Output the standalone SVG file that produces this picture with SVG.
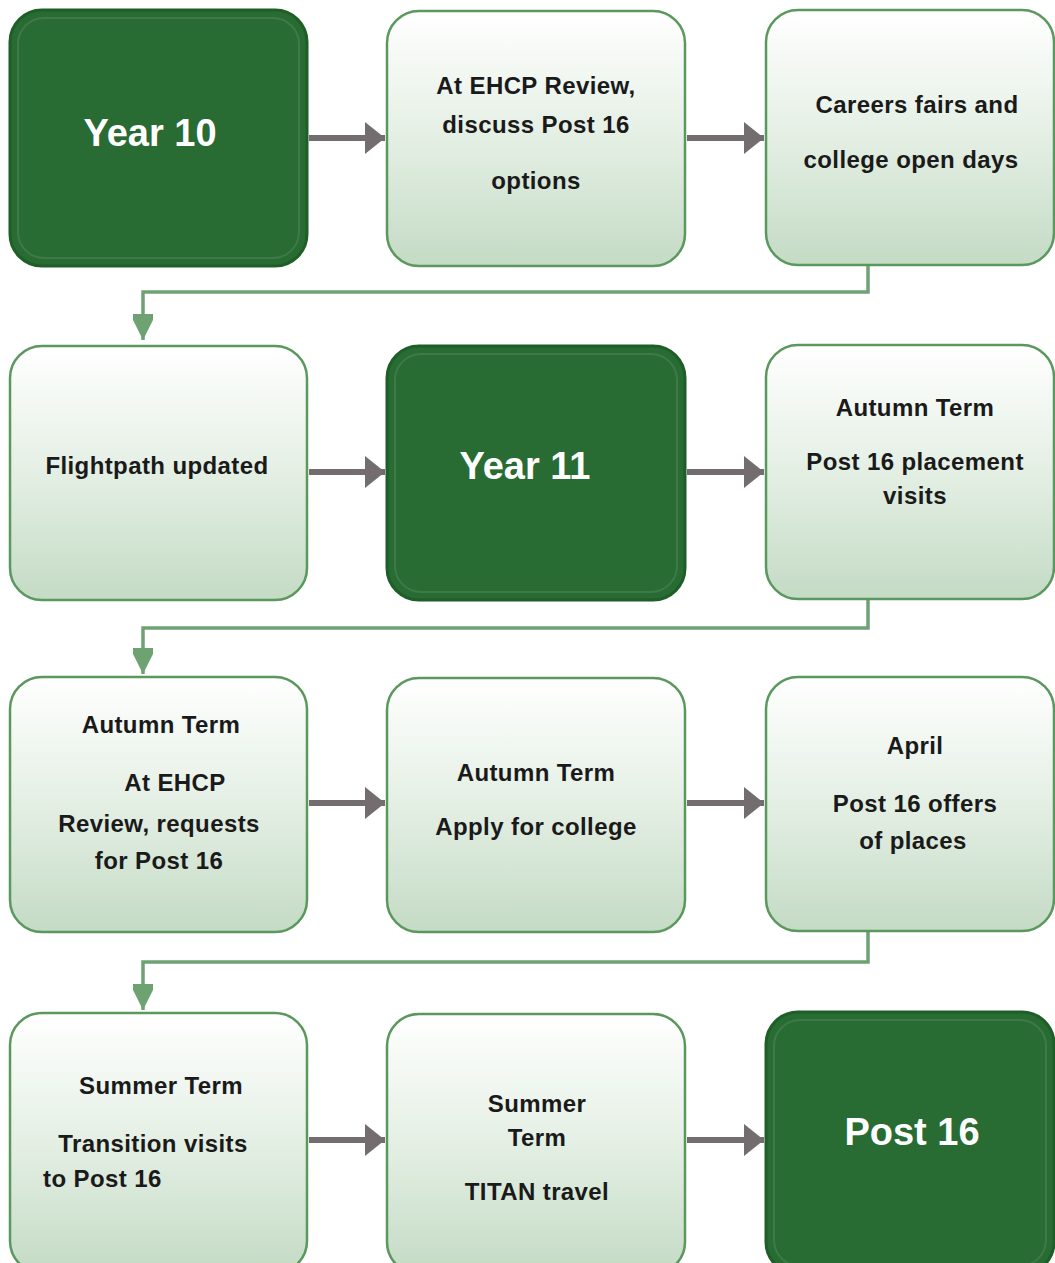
<svg xmlns="http://www.w3.org/2000/svg" width="1055" height="1263" viewBox="0 0 1055 1263">
<defs>
<linearGradient id="lg" x1="0" y1="0" x2="0" y2="1">
<stop offset="0" stop-color="#ffffff"/>
<stop offset="0.5" stop-color="#e4efe4"/>
<stop offset="1" stop-color="#c4dbc5"/>
</linearGradient>
<marker id="ga" viewBox="0 0 20 32" refX="20" refY="16" markerWidth="20" markerHeight="32" markerUnits="userSpaceOnUse" orient="auto">
<path d="M0,0 L20,16 L0,32 Z" fill="#746d6f"/>
</marker>
<marker id="gr" viewBox="0 0 26 20" refX="26" refY="10" markerWidth="26" markerHeight="20" markerUnits="userSpaceOnUse" orient="auto">
<path d="M0,-3 L26,10 L0,23 Z" fill="#6ea273"/>
</marker>
</defs>
<style>
.lt{fill:url(#lg);stroke:#5a985e;stroke-width:2.5}
.dk{fill:#286b33;stroke:#1e5f28;stroke-width:3}
.hl{fill:none;stroke:#ffffff;stroke-opacity:0.1;stroke-width:2}
.t{font-family:"Liberation Sans",Arial,sans-serif;font-weight:bold;font-size:24px;letter-spacing:0.4px;fill:#1a1a1a;text-anchor:middle}
.w{font-family:"Liberation Sans",Arial,sans-serif;font-weight:bold;font-size:38px;fill:#ffffff;text-anchor:middle}
.ha{stroke:#746d6f;stroke-width:6;fill:none;marker-end:url(#ga)}
.el{stroke:#6ea273;stroke-width:3.5;fill:none;marker-end:url(#gr)}
</style>

<g id="connectors">
<line class="ha" x1="309" y1="138" x2="385" y2="138"/>
<line class="ha" x1="687" y1="138" x2="764" y2="138"/>
<path class="el" d="M868,266 V292 H143 V340"/>
<line class="ha" x1="309" y1="472" x2="385" y2="472"/>
<line class="ha" x1="687" y1="472" x2="764" y2="472"/>
<path class="el" d="M868,600 V628 H143 V674"/>
<line class="ha" x1="309" y1="803" x2="385" y2="803"/>
<line class="ha" x1="687" y1="803" x2="764" y2="803"/>
<path class="el" d="M868,932 V962 H143 V1010"/>
<line class="ha" x1="309" y1="1140" x2="385" y2="1140"/>
<line class="ha" x1="687" y1="1140" x2="764" y2="1140"/>
</g>

<g id="n1">
<rect class="dk" x="10" y="10" width="297" height="256" rx="32"/>
<rect class="hl" x="18" y="18" width="281" height="240" rx="26"/>
<text class="w" x="150" y="146">Year 10</text>
</g>
<g id="n2">
<rect class="lt" x="387" y="11" width="298" height="255" rx="32"/>
<text class="t" x="536" y="94">At EHCP Review,</text>
<text class="t" x="536" y="133">discuss Post 16</text>
<text class="t" x="536" y="189">options</text>
</g>
<g id="n3">
<rect class="lt" x="766" y="10" width="288" height="255" rx="32"/>
<text class="t" x="917" y="113">Careers fairs and</text>
<text class="t" x="911" y="168">college open days</text>
</g>

<g id="n4">
<rect class="lt" x="10" y="346" width="297" height="254" rx="32"/>
<text class="t" x="157" y="474">Flightpath updated</text>
</g>
<g id="n5">
<rect class="dk" x="387" y="346" width="298" height="254" rx="32"/>
<rect class="hl" x="395" y="354" width="282" height="238" rx="26"/>
<text class="w" x="525" y="479">Year 11</text>
</g>
<g id="n6">
<rect class="lt" x="766" y="345" width="288" height="254" rx="32"/>
<text class="t" x="915" y="416">Autumn Term</text>
<text class="t" x="915" y="470">Post 16 placement</text>
<text class="t" x="915" y="504">visits</text>
</g>

<g id="n7">
<rect class="lt" x="10" y="677" width="297" height="255" rx="32"/>
<text class="t" x="161" y="733">Autumn Term</text>
<text class="t" x="175" y="791">At EHCP</text>
<text class="t" x="159" y="832">Review, requests</text>
<text class="t" x="159" y="869">for Post 16</text>
</g>
<g id="n8">
<rect class="lt" x="387" y="678" width="298" height="254" rx="32"/>
<text class="t" x="536" y="781">Autumn Term</text>
<text class="t" x="536" y="835">Apply for college</text>
</g>
<g id="n9">
<rect class="lt" x="766" y="677" width="288" height="254" rx="32"/>
<text class="t" x="915" y="754">April</text>
<text class="t" x="915" y="812">Post 16 offers</text>
<text class="t" x="913" y="849">of places</text>
</g>

<g id="n10">
<rect class="lt" x="10" y="1013" width="297" height="260" rx="32"/>
<text class="t" x="161" y="1094">Summer Term</text>
<text class="t" x="153" y="1152">Transition visits</text>
<text class="t" x="43" y="1187" style="text-anchor:start">to Post 16</text>
</g>
<g id="n11">
<rect class="lt" x="387" y="1014" width="298" height="260" rx="32"/>
<text class="t" x="537" y="1112">Summer</text>
<text class="t" x="537" y="1146">Term</text>
<text class="t" x="537" y="1200">TITAN travel</text>
</g>
<g id="n12">
<rect class="dk" x="766" y="1012" width="288" height="262" rx="32"/>
<rect class="hl" x="774" y="1020" width="272" height="246" rx="26"/>
<text class="w" x="912" y="1145">Post 16</text>
</g>
</svg>
